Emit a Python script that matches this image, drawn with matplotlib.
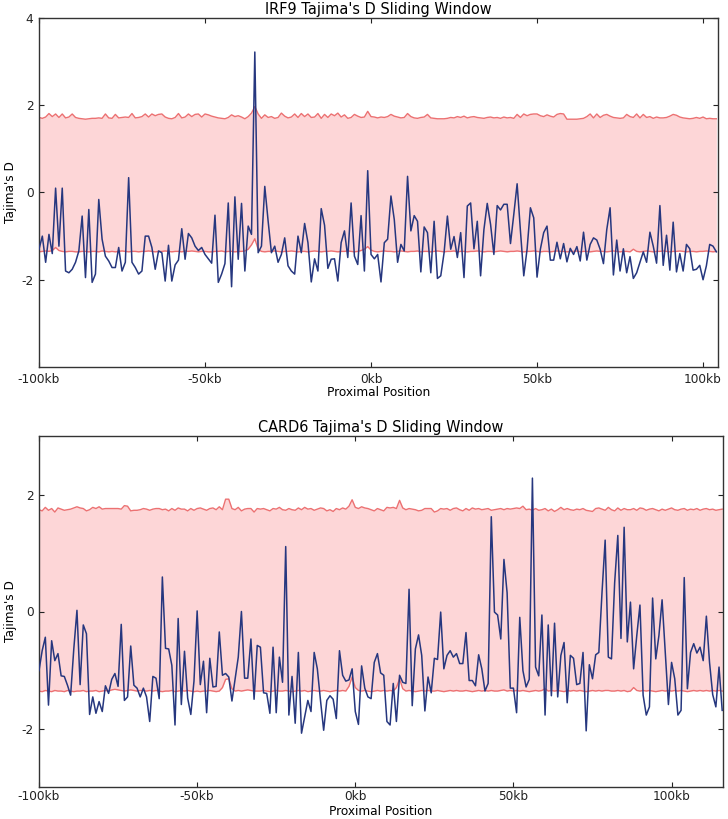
import numpy as np
import matplotlib
matplotlib.use("Agg")
import matplotlib.pyplot as plt

# ---------------- data ----------------
titles = ["IRF9 Tajima's D Sliding Window", "CARD6 Tajima's D Sliding Window"]
xtick_vals = [-100, -50, 0, 50, 100]
xtick_labels = ["-100kb", "-50kb", "0kb", "50kb", "100kb"]
x_label = "Proximal Position"
y_label = "Tajima's D"

start_kb = -100

d_top = [
    -1.3, -1.0, -1.6, -0.96, -1.4, 0.1, -1.23, 0.1, -1.8, -1.84,
    -1.76, -1.6, -1.34, -0.54, -1.95, -0.39, -2.06, -1.87, -0.16, -1.07,
    -1.46, -1.57, -1.72, -1.72, -1.26, -1.8, -1.6, 0.34, -1.6, -1.72,
    -1.87, -1.8, -1.0, -1.0, -1.26, -1.76, -1.34, -1.38, -2.03, -1.21,
    -2.03, -1.66, -1.55, -0.83, -1.53, -0.94, -1.04, -1.23, -1.33, -1.26,
    -1.42, -1.52, -1.62, -0.52, -2.06, -1.87, -1.63, -0.24, -2.16, -0.1,
    -1.53, -0.25, -1.8, -0.77, -0.96, 3.22,
    -1.38, -1.23, 0.14, -0.65,
    -1.38, -1.23, -1.6, -1.42, -1.04, -1.68, -1.8, -1.87, -1.0, -1.38,
    -0.71, -1.15, -2.05, -1.52, -1.8, -0.37, -0.75, -1.74, -1.53, -1.52,
    -2.03, -1.15, -0.88, -1.49, -0.24, -1.46, -1.65, -0.53, -1.8, 0.5,
    -1.42, -1.52, -1.42, -2.05, -1.15, -1.07, -0.08, -0.62, -1.6, -1.19,
    -1.34, 0.37, -0.88, -0.53, -0.66, -1.82, -0.79, -0.92, -1.84, -0.66,
    -1.97, -1.91, -1.38, -0.54, -1.3, -1.01, -1.49, -0.92, -1.95, -0.31,
    -0.24, -1.29, -0.66, -1.91, -0.85, -0.25, -0.73, -1.42, -0.3,
    -0.4, -0.27, -0.27, -1.17, -0.5, 0.2, -0.88,
    -1.91, -1.3, -0.35, -0.58, -1.94, -1.3, -0.92, -0.77, -1.55, -1.55,
    -1.14, -1.52, -1.17, -1.59, -1.28, -1.42, -1.24, -1.57, -0.91, -1.55,
    -1.19, -1.04, -1.09, -1.3, -1.63, -0.85, -0.35, -1.89, -1.09, -1.8,
    -1.29, -1.84, -1.47, -1.97, -1.84, -1.6, -1.36, -1.6, -0.91, -1.23,
    -1.62, -0.3, -1.67, -0.98, -1.78, -0.68, -1.82, -1.4, -1.8, -1.19,
    -1.29, -1.78, -1.76, -1.67, -2.0, -1.68, -1.19, -1.23, -1.36,
]

upper_top = [
    1.72, 1.70, 1.73, 1.81, 1.74, 1.80, 1.72, 1.80, 1.71, 1.73,
    1.80, 1.72, 1.70, 1.69, 1.68, 1.69, 1.70, 1.70, 1.71, 1.70,
    1.80, 1.71, 1.70, 1.79, 1.71, 1.72, 1.73, 1.72, 1.81, 1.71,
    1.72, 1.74, 1.80, 1.73, 1.80, 1.76, 1.79, 1.80, 1.73, 1.70,
    1.69, 1.72, 1.81, 1.71, 1.73, 1.80, 1.74, 1.79, 1.80, 1.73,
    1.80, 1.78, 1.75, 1.73, 1.71, 1.70, 1.69, 1.72, 1.78, 1.74,
    1.76, 1.73, 1.69, 1.74, 1.82, 1.97, 1.80, 1.70, 1.78, 1.72,
    1.74, 1.70, 1.72, 1.82, 1.75, 1.71, 1.73, 1.80, 1.72, 1.81,
    1.74, 1.80, 1.72, 1.73, 1.81, 1.70, 1.79, 1.72, 1.80, 1.76,
    1.82, 1.73, 1.78, 1.70, 1.72, 1.79, 1.75, 1.72, 1.73, 1.86,
    1.74, 1.73, 1.71, 1.73, 1.72, 1.74, 1.79, 1.75, 1.73, 1.71,
    1.72, 1.81, 1.74, 1.71, 1.70, 1.72, 1.73, 1.79, 1.71, 1.70,
    1.69, 1.69, 1.69, 1.70, 1.72, 1.71, 1.74, 1.72, 1.75, 1.71,
    1.73, 1.74, 1.72, 1.71, 1.70, 1.72, 1.73, 1.71, 1.72, 1.70,
    1.73, 1.71, 1.72, 1.70, 1.79, 1.72, 1.80, 1.76, 1.79, 1.80,
    1.80, 1.76, 1.74, 1.78, 1.75, 1.73, 1.79, 1.81, 1.80, 1.68,
    1.68, 1.68, 1.68, 1.69, 1.70, 1.74, 1.80, 1.71, 1.80, 1.72,
    1.77, 1.79, 1.75, 1.72, 1.71, 1.70, 1.71, 1.79, 1.74, 1.72,
    1.80, 1.71, 1.79, 1.72, 1.74, 1.70, 1.73, 1.71, 1.71, 1.72,
    1.75, 1.79, 1.77, 1.73, 1.71, 1.70, 1.69, 1.70, 1.72, 1.70,
    1.73, 1.69, 1.70, 1.69, 1.69,
]

lower_top = [
    -1.36, -1.35, -1.34, -1.35, -1.33, -1.26, -1.33, -1.35, -1.36, -1.35,
    -1.35, -1.36, -1.36, -1.35, -1.35, -1.36, -1.35, -1.35, -1.36, -1.34,
    -1.35, -1.36, -1.35, -1.36, -1.35, -1.34, -1.35, -1.36, -1.35, -1.35,
    -1.36, -1.35, -1.35, -1.34, -1.35, -1.36, -1.35, -1.35, -1.34, -1.35,
    -1.36, -1.35, -1.35, -1.36, -1.34, -1.35, -1.34, -1.35, -1.36, -1.35,
    -1.35, -1.36, -1.36, -1.35, -1.35, -1.34, -1.36, -1.35, -1.35, -1.36,
    -1.35, -1.35, -1.34, -1.30, -1.20, -1.06, -1.30, -1.35, -1.36, -1.35,
    -1.35, -1.34, -1.35, -1.36, -1.35, -1.35, -1.34, -1.35, -1.36, -1.35,
    -1.35, -1.36, -1.35, -1.34, -1.35, -1.36, -1.35, -1.35, -1.34, -1.35,
    -1.36, -1.35, -1.35, -1.34, -1.35, -1.36, -1.35, -1.33, -1.30, -1.24,
    -1.32, -1.35, -1.36, -1.35, -1.34, -1.35, -1.35, -1.36, -1.35, -1.34,
    -1.35, -1.36, -1.35, -1.35, -1.34, -1.36, -1.35, -1.35, -1.36, -1.35,
    -1.34, -1.35, -1.36, -1.35, -1.35, -1.34, -1.36, -1.35, -1.35, -1.36,
    -1.35, -1.35, -1.34, -1.35, -1.36, -1.35, -1.35, -1.36, -1.35, -1.34,
    -1.35, -1.36, -1.35, -1.35, -1.34, -1.35, -1.36, -1.35, -1.35, -1.34,
    -1.35, -1.36, -1.35, -1.35, -1.36, -1.35, -1.34, -1.35, -1.35, -1.36,
    -1.35, -1.35, -1.34, -1.36, -1.35, -1.35, -1.36, -1.35, -1.34, -1.35,
    -1.35, -1.36, -1.35, -1.34, -1.35, -1.36, -1.35, -1.35, -1.36, -1.30,
    -1.35, -1.36, -1.35, -1.34, -1.35, -1.36, -1.35, -1.35, -1.34, -1.35,
    -1.36, -1.35, -1.35, -1.34, -1.35, -1.36, -1.35, -1.35, -1.36, -1.35,
    -1.35, -1.34, -1.35, -1.36, -1.35,
]

d_bot = [
    -1.01, -0.67, -0.44, -1.6, -0.5, -0.84, -0.72, -1.1, -1.11, -1.26,
    -1.43, -0.64, 0.02, -1.25, -0.23, -0.38, -1.76, -1.46, -1.74, -1.54,
    -1.71, -1.27, -1.4, -1.16, -1.06, -1.28, -0.22, -1.52, -1.46, -0.59,
    -1.26, -1.31, -1.46, -1.31, -1.46, -1.88, -1.11, -1.14, -1.49, 0.59,
    -0.63, -0.64, -0.92, -1.94, -0.12, -1.59, -0.68, -1.48, -1.76, -1.19,
    0.01, -1.25, -0.85, -1.73, -0.8, -1.29, -1.28, -0.35, -1.09, -1.06,
    -1.12, -1.53, -1.15, -0.78, 0.0, -1.14, -1.14, -0.47, -1.5, -0.58,
    -0.61, -1.39, -1.4, -1.74, -0.61, -1.73, -0.78,
    -1.21, 1.11, -1.77, -1.11, -1.91, -0.7, -2.08, -1.8, -1.52, -1.71,
    -0.7, -0.98, -1.52, -2.03, -1.52, -1.44, -1.5, -1.83, -0.67, -1.09,
    -1.19, -1.17, -0.98, -1.71, -1.93, -0.93, -1.31, -1.46, -1.49, -0.87,
    -0.72, -1.05, -1.09, -1.88, -1.94, -1.23, -1.88, -1.09, -1.21, -1.23,
    0.38, -1.61, -0.64, -0.4, -0.75, -1.7, -1.12, -1.39, -0.8, -0.82,
    -0.01, -0.98, -0.75, -0.67, -0.78, -0.72, -0.89, -0.89, -0.36, -1.18,
    -1.18, -1.27, -0.74, -0.98, -1.36, -1.23,
    1.62, -0.01, -0.06, -0.47, 0.89, 0.32, -1.31, -1.31, -1.73, -0.1,
    -1.01, -1.29, -1.16, 2.28, -0.95, -1.1, -0.06, -1.77, -0.23, -1.44,
    -0.2, -1.46, -0.75, -0.53, -1.56, -0.75, -0.8, -1.25, -1.23, -0.7,
    -2.04, -0.91, -1.15, -0.74, -0.7, 0.32, 1.22, -0.78, -0.81, 0.49,
    1.3, -0.46, 1.44, -0.52, 0.16, -0.98, -0.41, 0.11, -1.43, -1.77,
    -1.63, 0.23, -0.81, -0.41, 0.2, -0.7, -1.59, -0.87, -1.15, -1.77,
    -1.69, 0.58, -1.32, -0.7, -0.55, -0.71, -0.61, -0.84, -0.08, -0.87,
    -1.42, -1.63, -0.95, -1.69,
]

upper_bot = [
    1.74, 1.72, 1.78, 1.73, 1.76, 1.70, 1.77, 1.75, 1.73, 1.74,
    1.75, 1.77, 1.79, 1.77, 1.76, 1.72, 1.74, 1.78, 1.76, 1.79,
    1.75, 1.76, 1.76, 1.76, 1.76, 1.76, 1.75, 1.81, 1.80, 1.72,
    1.73, 1.73, 1.74, 1.76, 1.75, 1.73, 1.75, 1.76, 1.76, 1.74,
    1.75, 1.72, 1.76, 1.73, 1.77, 1.75, 1.75, 1.72, 1.76, 1.73,
    1.76, 1.77, 1.75, 1.73, 1.76, 1.77, 1.74, 1.79, 1.74, 1.92,
    1.92, 1.76, 1.74, 1.78, 1.72, 1.75, 1.76, 1.76, 1.70, 1.76,
    1.75, 1.76, 1.74, 1.72, 1.76, 1.75, 1.78, 1.74, 1.73, 1.76,
    1.74, 1.73, 1.77, 1.74, 1.78, 1.75, 1.76, 1.73, 1.75, 1.77,
    1.76, 1.72, 1.74, 1.71, 1.76, 1.74, 1.77, 1.75, 1.80, 1.91,
    1.78, 1.76, 1.79, 1.77, 1.76, 1.74, 1.72, 1.76, 1.74, 1.72,
    1.78, 1.77, 1.78, 1.76, 1.90, 1.77, 1.74, 1.76, 1.75, 1.74,
    1.72, 1.73, 1.76, 1.76, 1.76, 1.70, 1.72, 1.76, 1.75, 1.76,
    1.73, 1.76, 1.77, 1.74, 1.72, 1.76, 1.73, 1.77, 1.75, 1.76,
    1.74, 1.75, 1.76, 1.73, 1.74, 1.75, 1.76, 1.74, 1.76, 1.75,
    1.76, 1.77, 1.76, 1.80, 1.74, 1.75, 1.73, 1.76, 1.73, 1.74,
    1.76, 1.72, 1.75, 1.71, 1.74, 1.78, 1.74, 1.76, 1.74, 1.73,
    1.75, 1.74, 1.76, 1.73, 1.72, 1.71, 1.76, 1.77, 1.75, 1.73,
    1.78, 1.74, 1.72, 1.77, 1.73, 1.76, 1.74, 1.74, 1.76, 1.73,
    1.77, 1.76, 1.73, 1.75, 1.76, 1.74, 1.72, 1.75, 1.73, 1.75,
    1.77, 1.74, 1.73, 1.75, 1.76, 1.73, 1.75, 1.74, 1.76, 1.73,
    1.75, 1.76, 1.74, 1.75, 1.73, 1.74, 1.75,
]

lower_bot = [
    -1.36, -1.37, -1.35, -1.36, -1.37, -1.35, -1.36, -1.36, -1.37, -1.35,
    -1.36, -1.37, -1.36, -1.36, -1.35, -1.37, -1.36, -1.36, -1.35, -1.37,
    -1.36, -1.35, -1.36, -1.34, -1.33, -1.34, -1.35, -1.36, -1.35, -1.34,
    -1.35, -1.36, -1.35, -1.35, -1.36, -1.35, -1.36, -1.35, -1.36, -1.37,
    -1.36, -1.36, -1.35, -1.37, -1.36, -1.35, -1.36, -1.35, -1.36, -1.37,
    -1.36, -1.37, -1.36, -1.36, -1.35, -1.36, -1.37, -1.36, -1.30, -1.16,
    -1.15, -1.32, -1.36, -1.35, -1.36, -1.35, -1.34, -1.35, -1.36, -1.36,
    -1.36, -1.35, -1.36, -1.37, -1.36, -1.35, -1.36, -1.36, -1.35, -1.36,
    -1.37, -1.36, -1.35, -1.36, -1.35, -1.37, -1.36, -1.35, -1.36, -1.36,
    -1.35, -1.36, -1.37, -1.36, -1.35, -1.36, -1.35, -1.36, -1.28, -1.12,
    -1.30, -1.35, -1.36, -1.35, -1.36, -1.37, -1.36, -1.35, -1.36, -1.35,
    -1.36, -1.35, -1.36, -1.30, -1.15, -1.32, -1.36, -1.35, -1.36, -1.37,
    -1.36, -1.35, -1.36, -1.35, -1.36, -1.36, -1.35, -1.36, -1.37, -1.36,
    -1.35, -1.36, -1.35, -1.36, -1.36, -1.35, -1.36, -1.37, -1.36, -1.35,
    -1.36, -1.35, -1.36, -1.35, -1.36, -1.36, -1.35, -1.34, -1.36, -1.35,
    -1.36, -1.35, -1.36, -1.35, -1.36, -1.37, -1.36, -1.35, -1.36, -1.35,
    -1.32, -1.36, -1.35, -1.36, -1.35, -1.36, -1.37, -1.35, -1.36, -1.35,
    -1.36, -1.35, -1.36, -1.37, -1.36, -1.35, -1.36, -1.35, -1.36, -1.35,
    -1.35, -1.36, -1.36, -1.35, -1.36, -1.35, -1.37, -1.36, -1.30, -1.35,
    -1.36, -1.35, -1.36, -1.35, -1.36, -1.37, -1.36, -1.35, -1.36, -1.35,
    -1.36, -1.35, -1.36, -1.35, -1.36, -1.37, -1.36, -1.35, -1.36, -1.35,
    -1.36, -1.35, -1.36, -1.35, -1.36, -1.35, -1.36,
]

panels = [
    dict(d=d_top, up=upper_top, lo=lower_top, ylim=(-4, 4), yticks=[-2, 0, 2, 4],
         xright=104.5, box=(39, 18, 718, 367), label_top=386, xpad=4),
    dict(d=d_bot, up=upper_bot, lo=lower_bot, ylim=(-3, 3), yticks=[-2, 0, 2],
         xright=116.1, box=(39, 436, 722.5, 787), label_top=805, xpad=2.5),
]

# ---------------- style ----------------
W, H, DPI = 728, 819, 100
BLUE = "#26377f"
RED_LINE = "#ec7172"
RED_FILL = "#fdd6d7"
FS = 8.7
FS_TITLE = 10.45

plt.rcParams["font.family"] = ["DejaVu Sans"]

fig = plt.figure(figsize=(W / DPI, H / DPI), dpi=DPI)
fig.patch.set_facecolor("white")

for p, title in zip(panels, titles):
    l, t, r, b = p["box"]
    ax = fig.add_axes([l / W, 1 - b / H, (r - l) / W, (b - t) / H])
    d = np.array(p["d"], dtype=float)
    x = start_kb + np.arange(len(d))
    up = np.array(p["up"], dtype=float)
    lo = np.array(p["lo"], dtype=float)
    ax.fill_between(x, lo, up, color=RED_FILL, linewidth=0, zorder=1)
    ax.plot(x, up, color=RED_LINE, lw=1.0, zorder=2)
    ax.plot(x, lo, color=RED_LINE, lw=1.0, zorder=2)
    ax.plot(x, d, color=BLUE, lw=1.1, zorder=3)
    ax.set_xlim(start_kb, p["xright"])
    ax.set_ylim(*p["ylim"])
    ax.set_xticks(xtick_vals)
    ax.set_xticklabels(xtick_labels)
    ax.set_yticks(p["yticks"])
    ax.set_yticklabels([str(v) for v in p["yticks"]])
    ax.tick_params(direction="in", length=3.3, width=0.8, labelsize=FS,
                   top=True, right=True, pad=4, colors="#222222")
    ax.tick_params(axis="x", pad=p["xpad"])
    for s in ax.spines.values():
        s.set_linewidth(1.0)
        s.set_color("#333333")
    ax.set_title(title, fontsize=FS_TITLE, pad=3)
    ax.set_xlabel(x_label, fontsize=FS)
    ax.xaxis.set_label_coords(0.5, -(p["label_top"] - b) / (b - t))
    ax.set_ylabel(y_label, fontsize=FS, labelpad=3)

fig.savefig("out.png", dpi=DPI, facecolor="white")
